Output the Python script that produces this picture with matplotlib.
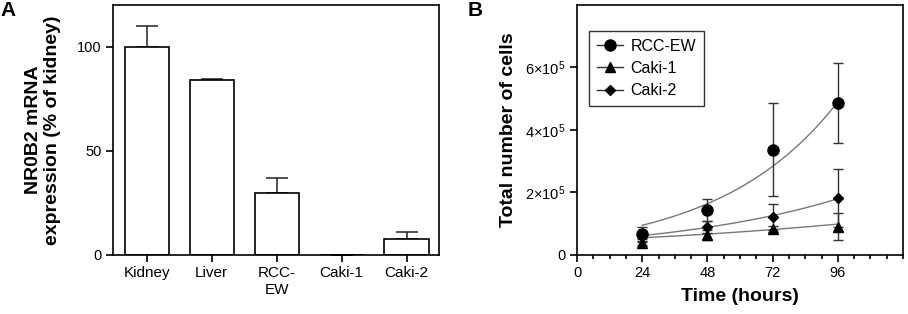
import numpy as np
import matplotlib
matplotlib.use("Agg")
import matplotlib.pyplot as plt
from matplotlib.lines import Line2D
from matplotlib.ticker import MultipleLocator, FixedLocator

plt.rcParams['font.family'] = ['Liberation Sans', 'DejaVu Sans']
plt.rcParams['mathtext.fontset'] = 'custom'
plt.rcParams['mathtext.rm'] = 'Liberation Sans'
plt.rcParams['mathtext.it'] = 'Liberation Sans:italic'
plt.rcParams['mathtext.bf'] = 'Liberation Sans:bold'

# ---- Panel A data ----
categories = ["Kidney", "Liver", "RCC-\nEW", "Caki-1", "Caki-2"]
expression = [100, 84, 30, 0, 7.7]
expression_err = [10, 0.3, 7, 0, 3.5]

# ---- Panel B data ----
hours = [24, 48, 72, 96]
series_names = ["RCC-EW", "Caki-1", "Caki-2"]
rcc_ew = [0.66e5, 1.44e5, 3.37e5, 4.86e5]
rcc_ew_err = [0.25e5, 0.35e5, 1.48e5, 1.27e5]
caki1 = [0.38e5, 0.64e5, 0.83e5, 0.91e5]
caki1_err = [0.06e5, 0.15e5, 0.10e5, 0.44e5]
caki2 = [0.62e5, 0.90e5, 1.22e5, 1.82e5]
caki2_err = [0.10e5, 0.18e5, 0.42e5, 0.92e5]
# exponential fit curves: fitted value at 24 h and at 96 h
fit_at_24 = [0.95e5, 0.55e5, 0.62e5]
fit_at_96 = [4.90e5, 0.99e5, 1.80e5]
y_ticks_b = [0, 2e5, 4e5, 6e5]
y_ticklabels_b = ["0", r"$2{\times}10^5$", r"$4{\times}10^5$", r"$6{\times}10^5$"]

fig = plt.figure(figsize=(9.08, 3.14), dpi=100)
axA = fig.add_axes([113/908, 59/314, 326/908, 250/314])
axB = fig.add_axes([577/908, 59/314, 326/908, 250/314])

lw = 1.2
# Panel A
x = np.arange(len(categories))
axA.bar(x, expression, width=0.68, color='white', edgecolor='black', linewidth=lw, zorder=2)
axA.errorbar(x, expression, yerr=[np.zeros(len(expression)), expression_err], fmt='none',
             ecolor='#222222', elinewidth=1.1, capsize=8, capthick=1.1, zorder=1)
axA.set_xlim(-0.52, 4.5)
axA.set_ylim(0, 120)
axA.set_yticks([0, 50, 100])
axA.set_xticks(x)
axA.set_xticklabels(categories, fontsize=11, linespacing=1.3)
axA.tick_params(axis='y', labelsize=10.5, direction='out', length=5, width=lw, pad=3)
axA.tick_params(axis='x', direction='out', length=5, width=lw, pad=3)
axA.set_ylabel("NR0B2 mRNA\nexpression (% of kidney)", fontsize=14, fontweight='bold',
               linespacing=1.15, labelpad=12)
for s in axA.spines.values():
    s.set_linewidth(lw)

# Panel B
markers = ['o', '^', 'D']
msizes = [8, 7, 5]
data = [rcc_ew, caki1, caki2]
errs = [rcc_ew_err, caki1_err, caki2_err]
t_fit = np.linspace(hours[0], hours[-1], 200)
for i in range(3):
    k = np.log(fit_at_96[i] / fit_at_24[i]) / (hours[-1] - hours[0])
    axB.plot(t_fit, fit_at_24[i] * np.exp(k * (t_fit - hours[0])), color='#777777', lw=1.0, zorder=1)
    axB.errorbar(hours, data[i], yerr=errs[i], fmt=markers[i], ms=msizes[i], color='black',
                 ecolor='#333333', elinewidth=1.0, capsize=3.5, capthick=1.0, zorder=3)
axB.set_xlim(0, 120)
axB.set_ylim(0, 8e5)
axB.xaxis.set_major_locator(FixedLocator([0, 24, 48, 72, 96]))
axB.xaxis.set_minor_locator(MultipleLocator(6))
axB.set_yticks(y_ticks_b)
axB.set_yticklabels(y_ticklabels_b)
axB.tick_params(axis='both', which='major', labelsize=10.5, direction='out', length=5, width=lw, pad=3)
axB.tick_params(axis='x', which='minor', direction='out', length=3, width=lw)
axB.set_xlabel("Time (hours)", fontsize=14, fontweight='bold', labelpad=6)
axB.set_ylabel("Total number of cells", fontsize=14, fontweight='bold', labelpad=6)
for s in axB.spines.values():
    s.set_linewidth(lw)

handles = [Line2D([], [], color='#333333', lw=1.0, marker=markers[i], ms=msizes[i],
                  markerfacecolor='black', markeredgecolor='black') for i in range(3)]
leg = axB.legend(handles, series_names, loc='upper left', bbox_to_anchor=(0.037, 0.897),
                 borderaxespad=0, fontsize=11.5, frameon=True, fancybox=False,
                 handlelength=1.6, handletextpad=0.5, labelspacing=0.45, borderpad=0.5)
leg.get_frame().set_edgecolor('black')
leg.get_frame().set_linewidth(1.0)

fig.text(0.001, 0.965, "A", fontsize=15, fontweight='bold', ha='left', va='center')
fig.text(468/908, 0.965, "B", fontsize=15, fontweight='bold', ha='left', va='center')

fig.savefig("out.png", dpi=100)
